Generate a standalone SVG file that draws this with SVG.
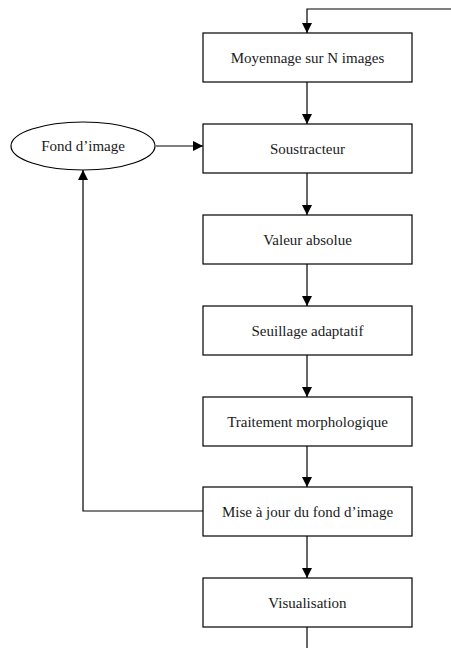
<svg xmlns="http://www.w3.org/2000/svg" width="451" height="648" viewBox="0 0 451 648">
  <style>
    .box { fill: #fff; stroke: #000; stroke-width: 1.2; }
    .lbl { font-family: "Liberation Serif", "DejaVu Serif", serif; font-size: 15px; fill: #1a1a1a; text-anchor: middle; dominant-baseline: central; }
    .wire { fill: none; stroke: #000; stroke-width: 1.2; }
  </style>
  <defs>
    <marker id="arr" viewBox="0 0 10 10" refX="10" refY="5" markerWidth="10" markerHeight="10" markerUnits="userSpaceOnUse" orient="auto">
      <path d="M0,0 L10,5 L0,10 Z" fill="#000"/>
    </marker>
  </defs>
  <rect width="451" height="648" fill="#fff"/>

  <g id="connectors">
    <path class="wire" d="M451,9 H307 V33" marker-end="url(#arr)"/>
    <path class="wire" d="M307,82 V124" marker-end="url(#arr)"/>
    <path class="wire" d="M156,146 H203" marker-end="url(#arr)"/>
    <path class="wire" d="M307,173 V215" marker-end="url(#arr)"/>
    <path class="wire" d="M307,264 V306" marker-end="url(#arr)"/>
    <path class="wire" d="M307,355 V397" marker-end="url(#arr)"/>
    <path class="wire" d="M307,446 V487" marker-end="url(#arr)"/>
    <path class="wire" d="M307,536 V578" marker-end="url(#arr)"/>
    <path class="wire" d="M203,511 H83 V170" marker-end="url(#arr)"/>
    <path class="wire" d="M307,627 V648"/>
  </g>

  <g id="moyennage">
    <rect class="box" x="203" y="33" width="209" height="49"/>
    <text class="lbl" x="307.5" y="57.5">Moyennage sur N images</text>
  </g>
  <g id="fond">
    <ellipse class="box" cx="83" cy="146" rx="72" ry="24"/>
    <text class="lbl" x="83" y="146">Fond d’image</text>
  </g>
  <g id="soustracteur">
    <rect class="box" x="203" y="124" width="209" height="49"/>
    <text class="lbl" x="307.5" y="148.5">Soustracteur</text>
  </g>
  <g id="valeur">
    <rect class="box" x="203" y="215" width="209" height="49"/>
    <text class="lbl" x="307.5" y="239.5">Valeur absolue</text>
  </g>
  <g id="seuillage">
    <rect class="box" x="203" y="306" width="209" height="49"/>
    <text class="lbl" x="307.5" y="330.5">Seuillage adaptatif</text>
  </g>
  <g id="traitement">
    <rect class="box" x="203" y="397" width="209" height="49"/>
    <text class="lbl" x="307.5" y="421.5">Traitement morphologique</text>
  </g>
  <g id="miseajour">
    <rect class="box" x="203" y="487" width="209" height="49"/>
    <text class="lbl" x="307.5" y="511.5">Mise à jour du fond d’image</text>
  </g>
  <g id="visualisation">
    <rect class="box" x="203" y="578" width="209" height="49"/>
    <text class="lbl" x="307.5" y="602.5">Visualisation</text>
  </g>
</svg>
